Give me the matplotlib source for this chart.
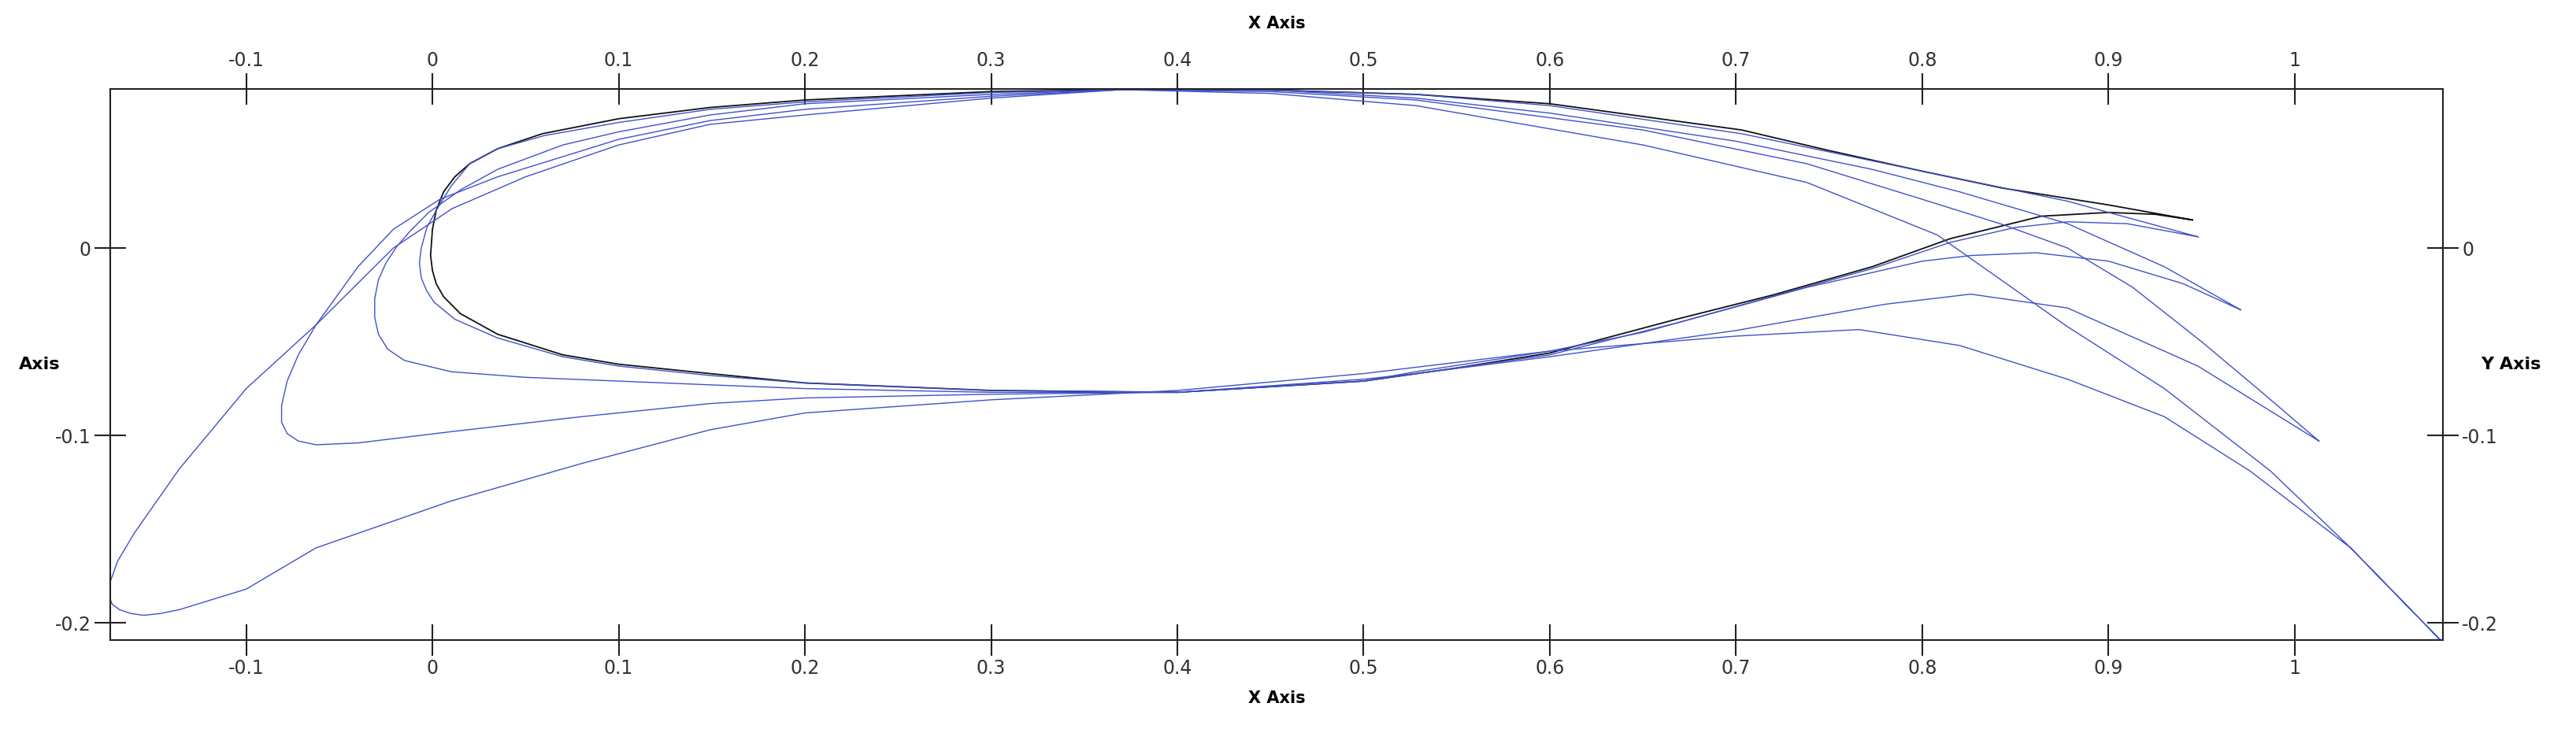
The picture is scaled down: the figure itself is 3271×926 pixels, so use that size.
import numpy as np
import matplotlib
matplotlib.use("Agg")
import matplotlib.pyplot as plt

# Baseline airfoil (black) and deformed shapes (blue), traced TE -> upper -> LE -> lower -> TE
base_x = [0.945, 0.9, 0.843, 0.8, 0.75, 0.703, 0.6, 0.528, 0.45, 0.37, 0.3, 0.2, 0.149, 0.1,
          0.059, 0.035, 0.02, 0.012, 0.006, 0.002, 0.0, -0.001, 0.0, 0.002, 0.006, 0.015, 0.035, 0.07, 0.1,
          0.149, 0.2, 0.3, 0.4, 0.5, 0.55, 0.6, 0.668, 0.72, 0.773, 0.815, 0.864, 0.9, 0.925, 0.945]
base_y = [0.015, 0.023, 0.032, 0.041, 0.052, 0.063, 0.077, 0.082, 0.0843, 0.0845, 0.0835, 0.079, 0.075, 0.069,
          0.061, 0.053, 0.045, 0.038, 0.030, 0.020, 0.01, -0.004, -0.012, -0.019, -0.026, -0.035, -0.046, -0.057, -0.062,
          -0.067, -0.072, -0.076, -0.077, -0.071, -0.064, -0.056, -0.038, -0.025, -0.010, 0.005, 0.017, 0.019, 0.018, 0.015]

s1_x = [0.948, 0.9, 0.878, 0.8, 0.703, 0.6, 0.528, 0.45, 0.37, 0.3, 0.2, 0.149, 0.1, 0.06, 0.035,
        0.02, 0.01, 0.002, -0.003, -0.006, -0.007, -0.006, -0.003, 0.001, 0.012, 0.035, 0.07, 0.1, 0.149,
        0.2, 0.3, 0.4, 0.5, 0.6, 0.668, 0.773, 0.815, 0.85, 0.878, 0.91, 0.948]
s1_y = [0.006, 0.019, 0.025, 0.041, 0.061, 0.076, 0.082, 0.0843, 0.0845, 0.083, 0.078, 0.074, 0.067, 0.06, 0.053,
        0.045, 0.033, 0.02, 0.011, 0.0, -0.008, -0.016, -0.023, -0.029, -0.038, -0.048, -0.058, -0.063, -0.068,
        -0.072, -0.076, -0.077, -0.071, -0.057, -0.04, -0.011, 0.003, 0.011, 0.014, 0.013, 0.006]

s2_x = [0.971, 0.93, 0.878, 0.82, 0.773, 0.7, 0.6, 0.528, 0.45, 0.37, 0.3, 0.2, 0.149, 0.1, 0.07,
        0.035, 0.015, -0.002, -0.012, -0.019, -0.025, -0.029, -0.031, -0.031, -0.029, -0.024, -0.015, 0.01, 0.05, 0.1,
        0.149, 0.2, 0.3, 0.4, 0.5, 0.528, 0.6, 0.65, 0.738, 0.8, 0.826, 0.861, 0.9, 0.94, 0.971]
s2_y = [-0.033, -0.01, 0.013, 0.03, 0.042, 0.057, 0.072, 0.080, 0.0843, 0.0845, 0.082, 0.077, 0.071, 0.062, 0.055,
        0.042, 0.031, 0.019, 0.009, 0.001, -0.008, -0.017, -0.027, -0.037, -0.046, -0.054, -0.060, -0.066, -0.069, -0.071,
        -0.073, -0.075, -0.077, -0.077, -0.071, -0.066, -0.055, -0.045, -0.021, -0.007, -0.004, -0.0025, -0.007, -0.019, -0.033]

s3_x = [1.013, 0.98, 0.95, 0.913, 0.878, 0.843, 0.8, 0.738, 0.65, 0.528, 0.45, 0.37, 0.3, 0.2, 0.149,
        0.1, 0.035, 0.004, -0.021, -0.04, -0.0625, -0.072, -0.078, -0.081, -0.081, -0.078, -0.072, -0.0625, -0.04, 0.01, 0.08,
        0.149, 0.2, 0.3, 0.4, 0.5, 0.528, 0.6, 0.7, 0.78, 0.826, 0.878, 0.948, 1.013]
s3_y = [-0.103, -0.075, -0.05, -0.021, 0.0, 0.0126, 0.026, 0.045, 0.063, 0.079, 0.0835, 0.0845, 0.081, 0.074, 0.068,
        0.058, 0.038, 0.026, 0.01, -0.01, -0.041, -0.057, -0.071, -0.084, -0.093, -0.099, -0.103, -0.105, -0.104, -0.098, -0.09,
        -0.083, -0.08, -0.078, -0.077, -0.07, -0.067, -0.058, -0.044, -0.03, -0.0246, -0.032, -0.063, -0.103]

s4_x = [1.078, 1.03, 0.987, 0.93, 0.878, 0.808, 0.738, 0.65, 0.528, 0.45, 0.37, 0.3, 0.2, 0.149, 0.1,
        0.05, 0.0105, -0.021, -0.0625, -0.1, -0.136, -0.16, -0.169, -0.173, -0.174, -0.172, -0.168, -0.162, -0.155, -0.146,
        -0.136, -0.1, -0.0625, 0.01, 0.08, 0.149, 0.2, 0.3, 0.4, 0.5, 0.6, 0.7, 0.766, 0.82, 0.878, 0.93, 0.976, 1.03, 1.078]
s4_y = [-0.209, -0.16, -0.119, -0.075, -0.042, 0.007, 0.035, 0.055, 0.076, 0.0825, 0.0845, 0.080, 0.071, 0.066, 0.055,
        0.038, 0.021, 0.0, -0.041, -0.075, -0.118, -0.152, -0.167, -0.178, -0.185, -0.190, -0.193, -0.195, -0.196, -0.195,
        -0.193, -0.182, -0.16, -0.135, -0.115, -0.097, -0.088, -0.081, -0.076, -0.067, -0.055, -0.047, -0.0435, -0.052, -0.070, -0.09, -0.119, -0.16, -0.209]

x_ticks = [-0.1, 0, 0.1, 0.2, 0.3, 0.4, 0.5, 0.6, 0.7, 0.8, 0.9, 1]
y_ticks = [-0.2, -0.1, 0]

BLUE = "#3f51c8"

fig = plt.figure(figsize=(32.71, 9.26), dpi=100)
ax = fig.add_axes([0.0428, 0.122, 0.9055, 0.756])

ax.plot(base_x, base_y, color="#111111", lw=1.3)
for xs, ys in [(s1_x, s1_y), (s2_x, s2_y), (s3_x, s3_y), (s4_x, s4_y)]:
    ax.plot(xs, ys, color=BLUE, lw=1.0)

ax.set_xlim(-0.173, 1.0795)
ax.set_ylim(-0.2092, 0.0849)

fmt = lambda v: f"{v:g}"
ax.set_xticks(x_ticks)
ax.set_xticklabels([fmt(v) for v in x_ticks])
ax.set_yticks(y_ticks)
ax.set_yticklabels([fmt(v) for v in y_ticks])
ax.tick_params(axis="both", direction="inout", length=29, width=1.5, color="#222222",
               labelsize=17, labelcolor="#333333", pad=3,
               top=True, right=True, labeltop=True, labelright=True)
for sp in ax.spines.values():
    sp.set_linewidth(1.5)
    sp.set_color("#222222")

cx = 0.5 * (140 + 3102) / 3271
fig.text(cx, 1 - 30 / 926, "X Axis", ha="center", va="center", fontsize=15, fontweight="bold")
fig.text(cx, 1 - 887 / 926, "X Axis", ha="center", va="center", fontsize=15, fontweight="bold")
# left title is cut off by the canvas edge in the original, only "Axis" shows
fig.text(76 / 3271, 1 - 463 / 926, "Axis", ha="right", va="center", fontsize=16, fontweight="bold")
fig.text(3150 / 3271, 1 - 463 / 926, "Y Axis", ha="left", va="center", fontsize=16, fontweight="bold")

fig.savefig("out.png", dpi=100)
